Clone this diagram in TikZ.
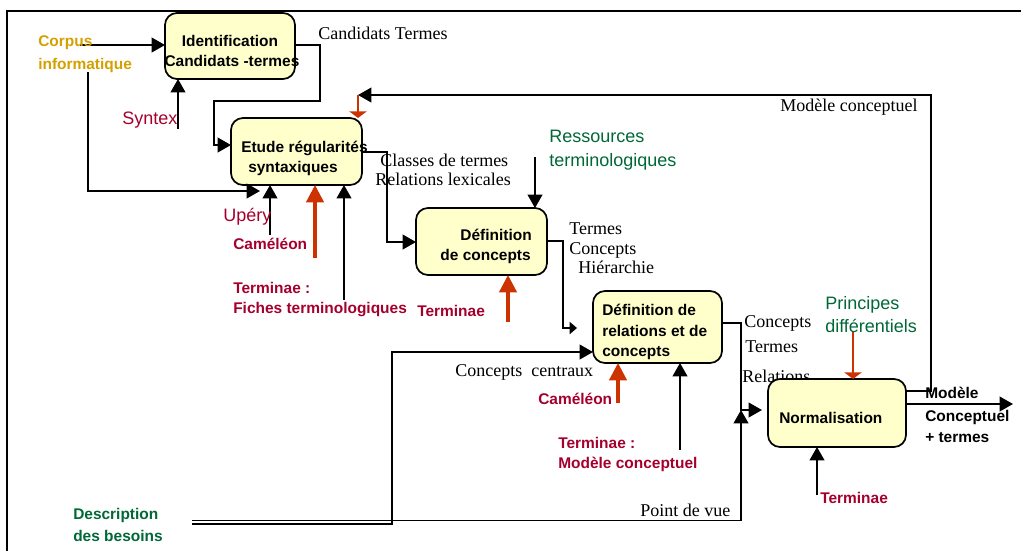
\documentclass[tikz,border=0pt]{standalone}
\usepackage{fontspec}
\setmainfont{Liberation Serif}
\setsansfont{Liberation Sans}
\usetikzlibrary{arrows.meta}
\definecolor{boxfill}{RGB}{255,255,204}
\definecolor{tred}{RGB}{165,0,45}
\definecolor{ored}{RGB}{204,51,0}
\definecolor{tgreen}{RGB}{0,104,55}
\definecolor{gold}{RGB}{212,160,0}
\begin{document}
\begin{tikzpicture}[x=0.75pt,y=-0.75pt,
  box/.style={draw,line width=1.3pt,fill=boxfill,rounded corners=9pt,inner sep=0pt,outer sep=0pt},
  lb/.style={inner sep=0pt,anchor=base west},
  lbc/.style={inner sep=0pt,anchor=base},
  lbe/.style={inner sep=0pt,anchor=base east},
  ser/.style={font=\fontsize{13.5}{16}\selectfont},
  bsf/.style={font=\sffamily\bfseries\fontsize{11.6}{14}\selectfont},
  rsf/.style={font=\sffamily\fontsize{13.5}{16}\selectfont},
  conn/.style={line width=1.4pt,-{Triangle[length=10pt,width=11pt]}},
  smallarr/.style={line width=1.4pt,-{Triangle[length=5.5pt,width=9pt]}},
  rthick/.style={ored,line width=2.4pt,-{Triangle[length=13pt,width=13pt]}},
  rflat/.style={ored,line width=1.3pt,-{Triangle[length=5pt,width=13pt]}}]
\useasboundingbox (0,0) rectangle (1021,551);
% frame
\draw[line width=1.5pt] (7,551) -- (7,11) -- (1021,11);
% text partly hidden by Normalisation box
\node[lb,ser] (lrel) at (742,382) {Relations};
% boxes
\node[box,minimum width=97.5pt,minimum height=49.5pt] (b1) at (230,46) {};
\node[box,minimum width=98.25pt,minimum height=50.25pt] (b2) at (296.5,151.5) {};
\node[box,minimum width=98.25pt,minimum height=50.25pt] (b3) at (481.5,241.5) {};
\node[box,minimum width=96.75pt,minimum height=54pt] (b4) at (657.5,327) {};
\node[box,minimum width=103.5pt,minimum height=51pt] (b5) at (837,413) {};
% box texts
\node[lbc,bsf] (t1a) at (230,46) {Identification};
\node[lbc,bsf] (t1b) at (232,66) {Candidats -termes};
\node[lb,bsf] (t2a) at (241,152) {Etude régularités};
\node[lb,bsf] (t2b) at (248,172) {syntaxiques};
\node[lbe,bsf] (t3a) at (532,240) {Définition};
\node[lbe,bsf] (t3b) at (531,260) {de concepts};
\node[lb,bsf] (t4a) at (602,315) {Définition de};
\node[lb,bsf] (t4b) at (602,336) {relations et de};
\node[lb,bsf] (t4c) at (602,356) {concepts};
\node[lb,bsf] (t5) at (779,423) {Normalisation};
% coordinates
\coordinate (c1) at (80,45);
\coordinate (c2) at (88,72);
\coordinate (u1) at (260,191);
\coordinate (s1) at (178,129);
\coordinate (fb) at (358,95);
\coordinate (up1) at (270,235);
\coordinate (ca1) at (315,258);
\coordinate (tf1) at (344,300);
\coordinate (rs) at (535,157);
\coordinate (a3) at (577,328);
\coordinate (tm3) at (508,322);
\coordinate (d1) at (192,524);
\coordinate (d2) at (192,520.5);
\coordinate (pv) at (741,410);
\coordinate (a4) at (762,410);
\coordinate (cm4) at (618,403);
\coordinate (tm4) at (680,450);
\coordinate (pd) at (853,331);
\coordinate (tm5) at (817,495);
\coordinate (out) at (1013,404);
% connectors
\draw[conn] (c1) -- (c1 -| b1.west);
\draw[conn] (c2) |- (u1);
\draw[conn] (s1) -- (s1 |- b1.south);
\draw[conn] (b1.east |- 0,45) -| (320,101) -| (214,145) -- (b2.west |- 0,145);
\draw[conn] (b5.east |- 0,391) -- (931,391) -- (931,95) -- (fb);
\draw[rflat] (fb) -- (fb |- b2.north);
\draw[conn] (up1) -- (up1 |- b2.south);
\draw[rthick] (ca1) -- (ca1 |- b2.south);
\draw[conn] (tf1) -- (tf1 |- b2.south);
\draw[conn] (b2.east |- 0,152) -| (387,242) -- (b3.west |- 0,242);
\draw[conn] (rs) -- (rs |- b3.north);
\draw[smallarr] (b3.east |- 0,241) -| (563,328) -- (a3);
\draw[rthick] (tm3) -- (tm3 |- b3.south);
\draw[conn] (d1) -| (392,352) -- (b4.west |- 0,352);
\draw[conn] (d2) -| (pv);
\draw[conn] (b4.east |- 0,323) -| (pv) -- (a4);
\draw[rthick] (cm4) -- (cm4 |- b4.south);
\draw[conn] (tm4) -- (tm4 |- b4.south);
\draw[rflat] (pd) -- (pd |- b5.north);
\draw[conn] (tm5) -- (tm5 |- b5.south);
\draw[conn] (b5.east |- out) -- (out);
% labels
\node[lb,bsf,text=gold] (lc1) at (38,46) {Corpus};
\node[lb,bsf,text=gold] (lc2) at (38,69) {informatique};
\node[lb,ser] (lct) at (318,39) {Candidats Termes};
\node[lb,rsf,text=tred] (lsy) at (122,124) {Syntex};
\node[lb,ser] (lmc) at (780,111) {Modèle conceptuel};
\node[lb,rsf,text=tred] (lup) at (223,221) {Upéry};
\node[lb,bsf,text=tred] (lca1) at (233,249) {Caméléon};
\node[lb,bsf,text=tred] (ltf1) at (233,293) {Terminae :};
\node[lb,bsf,text=tred] (ltf2) at (233,313) {Fiches terminologiques};
\node[lb,ser] (lcl) at (380,166) {Classes de termes};
\node[lb,ser] (lrl) at (375,185) {Relations lexicales};
\node[lb,rsf,text=tgreen] (lrs1) at (549,142) {Ressources};
\node[lb,rsf,text=tgreen] (lrs2) at (549,166) {terminologiques};
\node[lb,bsf,text=tred] (ltm3) at (417,316) {Terminae};
\node[lb,ser] (lte3) at (569,234) {Termes};
\node[lb,ser] (lco3) at (569,254) {Concepts};
\node[lb,ser] (lhi3) at (578,273) {Hiérarchie};
\node[lb,ser] (lco4) at (744,327) {Concepts};
\node[lb,ser] (lte4) at (745,352) {Termes};
\node[lb,ser] (lcc) at (455,376) {Concepts\ \ centraux};
\node[lb,bsf,text=tred] (lca4) at (538,404) {Caméléon};
\node[lb,bsf,text=tred] (ltm4a) at (558,448) {Terminae :};
\node[lb,bsf,text=tred] (ltm4b) at (558,468) {Modèle conceptuel};
\node[lb,rsf,text=tgreen] (lpd1) at (825,309) {Principes};
\node[lb,rsf,text=tgreen] (lpd2) at (825,332) {différentiels};
\node[lb,ser] (lpv) at (640,516) {Point de vue};
\node[lb,bsf,text=tgreen] (lds1) at (73,519) {Description};
\node[lb,bsf,text=tgreen] (lds2) at (73,541) {des besoins};
\node[lb,bsf,text=tred] (ltm5) at (820,503) {Terminae};
\node[lb,bsf] (lo1) at (925,398) {Modèle};
\node[lb,bsf] (lo2) at (925,421) {Conceptuel};
\node[lb,bsf] (lo3) at (925,442) {+ termes};
\end{tikzpicture}
\end{document}
